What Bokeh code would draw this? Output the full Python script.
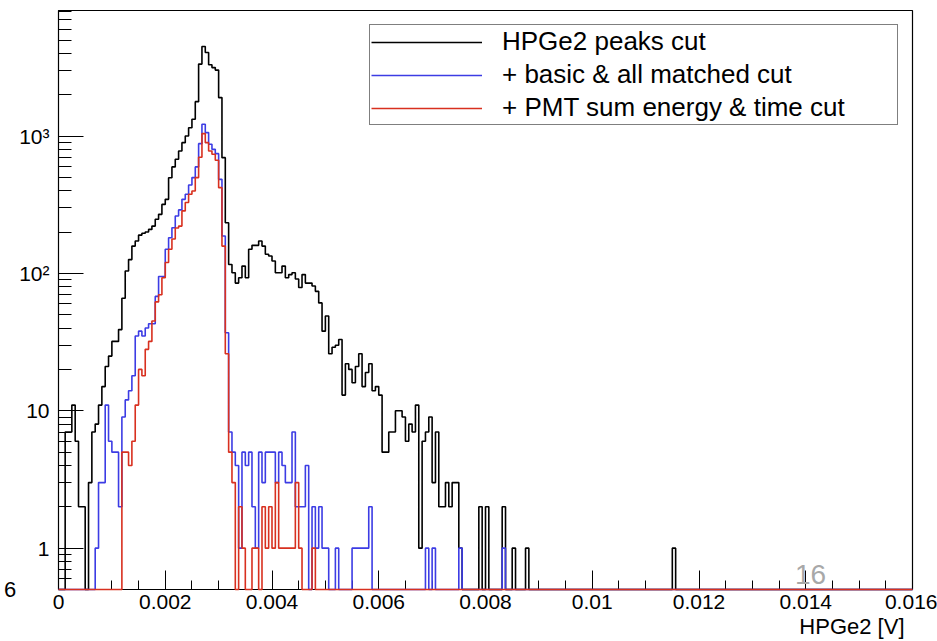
import numpy as np
from bokeh.plotting import figure
from bokeh.models import Range1d, FixedTicker, Legend, LegendItem, Label, Title
from bokeh.embed import file_html
from bokeh.resources import INLINE

# ---- histogram binning -------------------------------------------------
N_BINS = 256
X_MIN, X_MAX = 0.0, 0.016
Y_MIN, Y_MAX = 0.5, 8200

# ---- bin contents (counts per bin, starting at bin 0) ------------------
peaks_cut = [
    0, 0, 7, 7, 11, 6, 2, 2, 0, 3,
    7, 8, 11, 15, 21, 25, 32, 32, 39, 66,
    104, 126, 158, 172, 190, 196, 200, 209, 221, 248,
    269, 318, 346, 497, 596, 678, 778, 895, 1000, 1150,
    1325, 1780, 3340, 4485, 4055, 3300, 3150, 3020, 1905, 696,
    234, 116, 101, 85, 93, 113, 93, 150, 160, 160,
    172, 158, 138, 134, 123, 101, 101, 113, 93, 98,
    101, 91, 79, 98, 85, 85, 81, 74, 61, 38,
    49, 26, 29, 30, 33, 13, 22, 20, 16, 21,
    26, 15, 19, 22, 14, 15, 13, 5, 5, 7,
    7, 10, 10, 9, 6, 8, 7, 11, 1, 6,
    7, 9, 3, 7, 2, 2, 3, 2, 3, 3,
    1, 0, 0, 0, 0, 0, 2, 0, 2, 0,
    0, 0, 0, 2, 0, 0, 1, 0, 0, 0,
    1, 0, 0, 0, 0, 0, 0, 0, 0, 0,
    0, 0, 0, 0, 0, 0, 0, 0, 0, 0,
    0, 0, 0, 0, 0, 0, 0, 0, 0, 0,
    0, 0, 0, 0, 0, 0, 0, 0, 0, 0,
    0, 0, 0, 0, 1,
]

basic_matched_cut = [
    0, 0, 0, 0, 0, 0, 0, 0, 0, 0,
    0, 1, 3, 3, 11, 6, 5, 5, 2, 9,
    12, 14, 18, 35, 38, 35, 40, 43, 43, 68,
    95, 95, 150, 182, 215, 262, 290, 346, 377, 440,
    498, 596, 880, 1219, 1059, 871, 800, 744, 484, 187,
    37, 7, 5, 4, 1, 5, 4, 5, 2, 1,
    5, 3, 5, 5, 5, 3, 5, 4, 3, 3,
    7, 2, 2, 2, 4, 0, 2, 1, 2, 1,
    1, 0, 0, 1, 0, 0, 0, 0, 1, 1,
    1, 1, 1, 2, 0, 0, 0, 0, 0, 0,
    0, 0, 0, 0, 0, 0, 0, 0, 0, 0,
    1, 0, 1, 0, 0, 0, 0, 0, 0, 0,
    1, 0, 0, 0, 0, 0, 0, 0, 0, 0,
    0, 0, 0, 1,
]

pmt_energy_time_cut = [
    0, 0, 0, 0, 0, 0, 0, 0, 0, 0,
    0, 0, 0, 0, 0, 0, 0, 0, 0, 5,
    5, 4, 6, 11, 20, 18, 28, 32, 45, 62,
    70, 93, 120, 150, 178, 214, 221, 285, 328, 377,
    398, 498, 700, 1042, 895, 778, 736, 666, 421, 158,
    26, 5, 3, 0, 2, 1, 0, 0, 1, 1,
    0, 2, 1, 2, 1, 3, 1, 1, 1, 1,
    1, 3, 1, 0, 0, 0, 1,
]

series_labels = [
    "HPGe2 peaks cut",
    "+ basic & all matched cut",
    "+ PMT sum energy & time cut",
]
series_colors = ["#000000", "#3c3ce4", "#d8301f"]

x_tick_values = [0, 0.002, 0.004, 0.006, 0.008, 0.01, 0.012, 0.014, 0.016]
x_tick_labels = ["0", "0.002", "0.004", "0.006", "0.008", "0.01", "0.012", "0.014", "0.016"]
y_tick_values = [1, 10, 100, 1000]
y_tick_labels = ["1", "10", "10\u00b2", "10\u00b3"]

FONT = "Liberation Sans"

edges = np.linspace(X_MIN, X_MAX, N_BINS + 1)


def step_outline(counts):
    c = np.zeros(N_BINS)
    c[: len(counts)] = counts
    c = np.where(c > 0, c, Y_MIN)          # empty bins are drawn along the frame bottom
    xs = np.repeat(edges, 2)[1:-1]
    ys = np.repeat(c, 2)
    xs = np.concatenate([[edges[0]], xs, [edges[-1]]])
    ys = np.concatenate([[Y_MIN], ys, [Y_MIN]])
    return xs, ys


p = figure(
    width=937, height=641,
    x_range=Range1d(X_MIN, X_MAX), y_range=Range1d(Y_MIN, Y_MAX),
    y_axis_type="log",
    output_backend="svg", toolbar_location=None,
    min_border_left=58, min_border_right=25, min_border_top=10, min_border_bottom=52,
)
p.xgrid.visible = False
p.ygrid.visible = False
p.outline_line_color = "black"
p.outline_line_width = 1.2
p.background_fill_color = "white"
p.border_fill_color = "white"

renderers = []
for counts, color in zip([peaks_cut, basic_matched_cut, pmt_energy_time_cut], series_colors):
    xs, ys = step_outline(counts)
    r = p.line(xs, ys, line_color=color, line_width=1.6)
    r.level = "overlay"
    renderers.append(r)

# x axis
minor_x = [round(i * 0.0005, 6) for i in range(0, 33)]
p.xaxis.ticker = FixedTicker(ticks=x_tick_values, minor_ticks=minor_x)
p.xaxis.major_label_overrides = dict(zip(x_tick_values, x_tick_labels))
p.xaxis.major_tick_in = 19
p.xaxis.major_tick_out = 0
p.xaxis.minor_tick_in = 9
p.xaxis.minor_tick_out = 0
p.xaxis.major_label_standoff = 5
p.xaxis.major_label_text_font = FONT
p.xaxis.major_label_text_font_size = "21px"
p.xaxis.major_label_text_color = "black"
p.xaxis.axis_line_color = "black"
p.xaxis.major_tick_line_color = "black"
p.xaxis.minor_tick_line_color = "black"

# axis title, ROOT style: right-aligned under the end of the axis
x_title = Title(text="HPGe2 [V]", align="right", offset=8, standoff=0,
                text_font=FONT, text_font_size="22px", text_font_style="normal",
                text_color="black")
p.add_layout(x_title, "below")

# y axis (log)
minor_y = [m * d for d in (0.1, 1, 10, 100, 1000) for m in range(2, 10)]
minor_y = [v for v in minor_y if Y_MIN <= v <= Y_MAX]
p.yaxis.ticker = FixedTicker(ticks=y_tick_values, minor_ticks=minor_y)
p.yaxis.major_label_overrides = dict(zip(y_tick_values, y_tick_labels))
p.yaxis.major_tick_in = 25
p.yaxis.major_tick_out = 0
p.yaxis.minor_tick_in = 13
p.yaxis.minor_tick_out = 0
p.yaxis.major_label_standoff = 9
p.yaxis.major_label_text_font = FONT
p.yaxis.major_label_text_font_size = "21px"
p.yaxis.major_label_text_color = "black"
p.yaxis.axis_line_color = "black"
p.yaxis.major_tick_line_color = "black"
p.yaxis.minor_tick_line_color = "black"
# remnant of a neighbouring panel's tick label at the window's left edge
p.yaxis.axis_label = "6"
p.yaxis.axis_label_text_font = FONT
p.yaxis.axis_label_text_font_size = "22px"
p.yaxis.axis_label_text_font_style = "normal"
p.yaxis.axis_label_text_color = "black"
p.yaxis.axis_label_orientation = "horizontal"
p.yaxis.axis_label_standoff = 0
try:
    p.yaxis.axis_label_align = "start"
except Exception:
    pass

# legend
legend = Legend(
    items=[LegendItem(label=lab, renderers=[r]) for lab, r in zip(series_labels, renderers)],
    location=(311, 464),
    orientation="vertical",
    border_line_color="black", border_line_width=1,
    background_fill_color="white", background_fill_alpha=1.0,
    label_text_font=FONT, label_text_font_size="26px", label_text_color="black",
    glyph_width=111, glyph_height=20, label_height=20,
    label_standoff=20, label_width=394,
    padding=1, spacing=2, margin=0,
)
p.add_layout(legend)

px_per_decade = 579 / (np.log10(Y_MAX) - np.log10(Y_MIN))
def y_from_bottom(px):
    return Y_MIN * 10 ** (px / px_per_decade)
def y_from_top(px):
    return Y_MAX * 10 ** (-px / px_per_decade)
def x_at(px):
    return X_MIN + (px - 58) / 854 * (X_MAX - X_MIN)

# slide page number overlay
p.add_layout(Label(x=x_at(810), y=y_from_bottom(15), text="16", text_align="center",
                   text_baseline="middle", text_font=FONT, text_font_size="28px",
                   text_color="#a8a8a8"))
# cut-off page title at the top edge (only the bottoms of the letters show)
p.add_layout(Label(x=x_at(58), y=y_from_top(-22), text="HPGe2", text_align="left",
                   text_baseline="alphabetic", text_font=FONT, text_font_size="42px",
                   text_color="black"))

open("out.html", "w").write(file_html(p, INLINE))
